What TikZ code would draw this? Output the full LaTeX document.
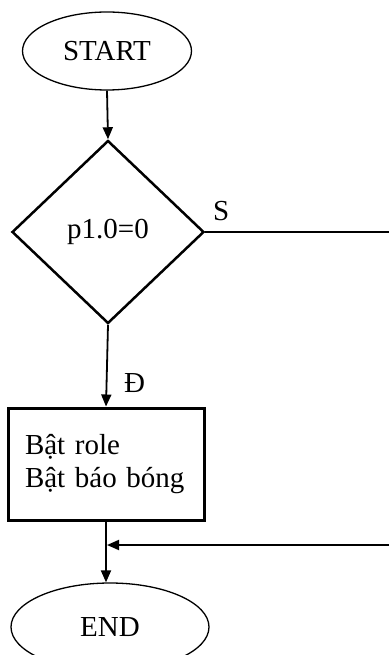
\documentclass[tikz,border=0pt]{standalone}
\usepackage{fontspec}
\setmainfont{Liberation Serif}
\usetikzlibrary{shapes.geometric,arrows.meta}
\begin{document}
\begin{tikzpicture}[x=1pt,y=-1pt,
  txt/.style={font=\fontsize{29}{33}\selectfont},
  oval/.style={ellipse,draw,line width=1.3pt,inner sep=0pt,txt},
  cond/.style={diamond,draw,line width=2.5pt,inner sep=0pt,minimum width=192pt,minimum height=183pt,txt},
  proc/.style={rectangle,draw,line width=3pt,minimum width=196pt,minimum height=112pt,inner xsep=17pt,text width=162pt,align=left,txt},
  conn/.style={line width=1.8pt},
  arr/.style={conn,-{Triangle[length=12pt,width=10pt]}},
  lbl/.style={txt,inner sep=0pt}]
\useasboundingbox (0,0) rectangle (389,655);
\node[oval,minimum width=169pt,minimum height=78pt] (start) at (107,51) {START};
\node[cond] (dec) at (108,232) {p1.0=0};
\node[proc,text depth=40pt] (act) at (106,464) {Bật role\\Bật báo bóng};
\node[oval,minimum width=198pt,minimum height=88pt] (end) at (110,627) {END};
\coordinate (r1) at (389,232);
\coordinate (r2) at (389,545);
\coordinate (j) at (107,545);
\draw[arr] (start.south) -- (dec.north);
\draw[conn] (dec.east) -- (r1);
\draw[arr] (dec.south) -- (act.north);
\draw[arr] (act.south) -- (act.south |- end.north);
\draw[arr] (r2) -- (j);
\node[lbl,anchor=south west] (s) at (213,221) {S};
\node[lbl,anchor=south west] (d) at (124,393) {Đ};
\end{tikzpicture}
\end{document}
